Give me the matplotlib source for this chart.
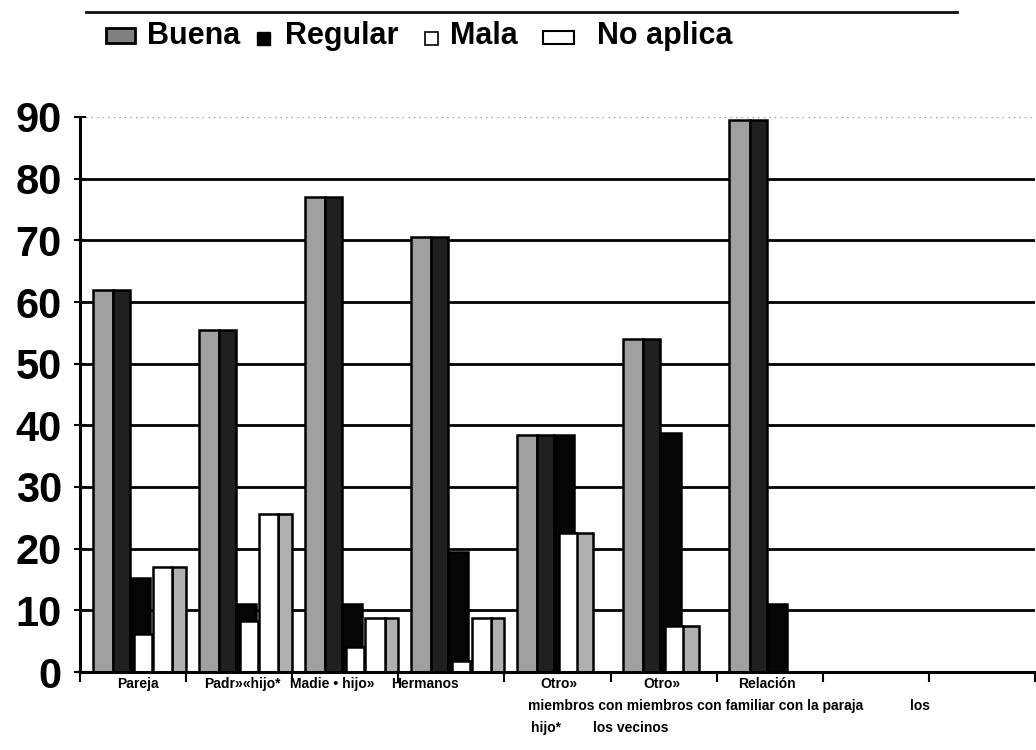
import matplotlib
matplotlib.use("Agg")
import matplotlib.pyplot as plt
import matplotlib.transforms as mtransforms
from matplotlib.patches import Rectangle
from matplotlib.lines import Line2D

plt.rcParams['font.family'] = ['Liberation Sans', 'DejaVu Sans']

# ---- data ----
n_slots = 9
buena = [62, 55.5, 77, 70.5, 38.5, 54, 89.5, 0, 0]
regular = [15.2, 11, 11, 19.4, 38.5, 38.8, 11.1, 0, 0]
mala = [6.1, 8.2, 4, 1.8, 22.5, 7.4, 0, 0, 0]
no_aplica = [17.1, 25.7, 8.7, 8.7, 0, 0, 0, 0, 0]
series_names = ["Buena", "Regular", "Mala", "No aplica"]
yticks = [0, 10, 20, 30, 40, 50, 60, 70, 80, 90]

# label lines (text, x centre in category units, row)
label_lines = [
    ("Pareja", 0.55, 0),
    ("Padr»«hijo*", 1.53, 0),
    ("Madie • hijo»", 2.38, 0),
    ("Hermanos", 3.25, 0),
    ("Otro»", 4.51, 0),
    ("Otro»", 5.48, 0),
    ("Relación", 6.47, 0),
    ("miembros con miembros con familiar con la paraja", 5.80, 1),
    ("los", 7.92, 1),
    ("hijo*", 4.39, 2),
    ("los vecinos", 5.19, 2),
]

W, H = 1036, 750
fig = plt.figure(figsize=(W / 100, H / 100), dpi=100)
ax = fig.add_axes([80 / W, (H - 672) / H, (1035 - 80) / W, (672 - 117) / H])

x0 = list(range(n_slots))
ec = 'black'
lw = 1.8

# Buena: front + dark side
ax.bar([x + 0.12 for x in x0], buena, width=0.19, align='edge',
       color='#a0a0a0', edgecolor=ec, linewidth=lw, zorder=3)
ax.bar([x + 0.31 for x in x0], buena, width=0.16, align='edge',
       color='#202020', edgecolor=ec, linewidth=lw, zorder=3)
# Regular: black
ax.bar([x + 0.47 for x in x0], regular, width=0.19, align='edge',
       color='#050505', edgecolor=ec, linewidth=lw, zorder=4)
# Mala: white front + grey side
ax.bar([x + 0.67 for x in x0], mala, width=0.16, align='edge',
       color='#b0b0b0', edgecolor=ec, linewidth=lw, zorder=5)
ax.bar([x + 0.51 for x in x0], mala, width=0.17, align='edge',
       color='white', edgecolor=ec, linewidth=lw, zorder=5)
# No aplica: white front + grey side
ax.bar([x + 0.87 for x in x0], no_aplica, width=0.13, align='edge',
       color='#b0b0b0', edgecolor=ec, linewidth=lw, zorder=6)
ax.bar([x + 0.69 for x in x0], no_aplica, width=0.18, align='edge',
       color='white', edgecolor=ec, linewidth=lw, zorder=6)

ax.set_xlim(0, n_slots)
ax.set_ylim(0, 90)

# grid
for v in yticks[1:-1]:
    ax.axhline(v, color='black', linewidth=2.0, zorder=1)
ax.axhline(90, color='#999999', linewidth=1.0, linestyle=(0, (1, 3)), zorder=1)

for s in ['top', 'right']:
    ax.spines[s].set_visible(False)
ax.spines['left'].set_linewidth(2.2)
ax.spines['bottom'].set_linewidth(2.2)
ax.spines['left'].set_zorder(7)
ax.spines['bottom'].set_zorder(7)

ax.set_yticks(yticks)
ax.set_yticklabels([str(v) for v in yticks], fontsize=30, fontweight='bold')
ax.tick_params(axis='y', length=8, width=1.5, pad=9, direction='inout')
ax.set_xticks(range(n_slots + 1))
ax.set_xticklabels([''] * (n_slots + 1))
ax.tick_params(axis='x', length=7, width=1.5, direction='out')

# category labels
trans = mtransforms.blended_transform_factory(ax.transData, fig.transFigure)
row_y = [684, 706, 728]
for txt, xc, row in label_lines:
    ax.text(xc, (H - row_y[row]) / H, txt, transform=trans, ha='center', va='center',
            fontsize=10, fontweight='bold', clip_on=False)

# top rule
fig.add_artist(Line2D([86 / W, 957 / W], [(H - 12) / H] * 2, color='#111111',
                      linewidth=2.0, transform=fig.transFigure))

# legend (manual)
def rect(px0, py0, px1, py1, fc, lwid=1.5):
    fig.add_artist(Rectangle((px0 / W, (H - py1) / H), (px1 - px0) / W, (py1 - py0) / H,
                             facecolor=fc, edgecolor='black', linewidth=lwid,
                             transform=fig.transFigure))

rect(106, 28, 135, 43, '#808080', 2.0)
rect(257, 32, 270, 45, 'black', 1.0)
rect(425, 32, 438, 45, 'white', 1.2)
rect(543, 31, 574, 44, 'white', 1.5)
legend_text = [(series_names[0], 147), (series_names[1], 285),
               (series_names[2], 450), (series_names[3], 597)]
for t, px in legend_text:
    fig.text(px / W, (H - 44) / H, t, fontsize=22, fontweight='bold',
             ha='left', va='baseline')

fig.savefig('out.png', dpi=100)
